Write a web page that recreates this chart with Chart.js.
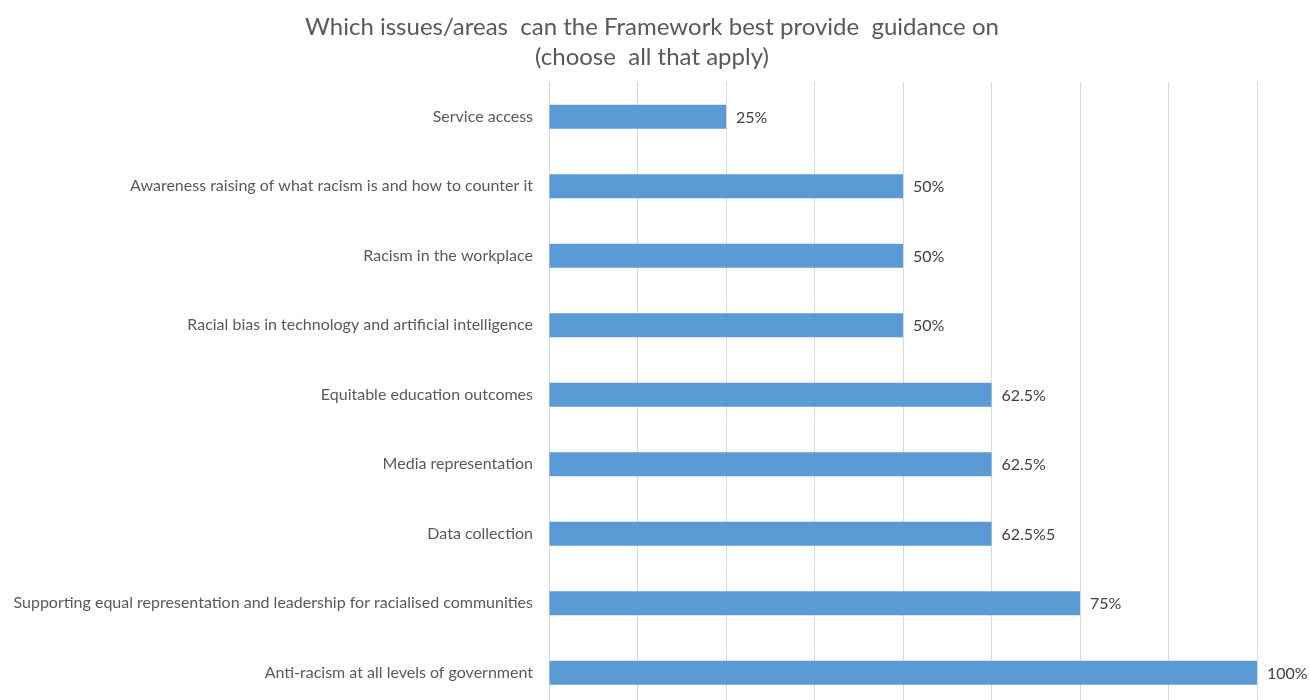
<!DOCTYPE html>
<html>
<head>
<meta charset="utf-8">
<script src="https://cdn.jsdelivr.net/npm/chart.js@4"></script>
<style>
  html, body { margin: 0; padding: 0; background: #fff; overflow: hidden; }
  #c { position: absolute; left: 0; top: 0; }
</style>
</head>
<body>
<canvas id="c" width="1310" height="733"></canvas>
<script>
const categories = [
  "Service access",
  "Awareness raising of what racism is and how to counter it",
  "Racism in the workplace",
  "Racial bias in technology and artificial intelligence",
  "Equitable education outcomes",
  "Media representation",
  "Data collection",
  "Supporting equal representation and leadership for racialised communities",
  "Anti-racism at all levels of government"
];
const values = [25, 50, 50, 50, 62.5, 62.5, 62.5, 75, 100];
const valueLabels = ["25%", "50%", "50%", "50%", "62.5%", "62.5%", "62.5%5", "75%", "100%"];
const titleLines = ["Which issues/areas  can the Framework best provide  guidance on", "(choose  all that apply)"];

const FONT = "Lato, 'Open Sans', sans-serif";
const TEXT = "#595959";

const valueLabelPlugin = {
  id: "valueLabels",
  afterDatasetsDraw(chart) {
    const ctx = chart.ctx;
    const meta = chart.getDatasetMeta(0);
    ctx.save();
    ctx.font = "16px " + FONT;
    ctx.fillStyle = "#404040";
    ctx.textAlign = "left";
    ctx.textBaseline = "middle";
    meta.data.forEach((bar, i) => {
      ctx.fillText(valueLabels[i], bar.x + 10, bar.y + 1);
    });
    ctx.restore();
  }
};

const titlePlugin = {
  id: "centeredTitle",
  afterDraw(chart) {
    const ctx = chart.ctx;
    ctx.save();
    ctx.font = "24px " + FONT;
    ctx.fillStyle = TEXT;
    ctx.textAlign = "center";
    ctx.textBaseline = "middle";
    titleLines.forEach((line, i) => ctx.fillText(line, 652, 27 + i * 30));
    ctx.restore();
  }
};

new Chart(document.getElementById("c"), {
  type: "bar",
  data: {
    labels: categories,
    datasets: [{
      data: values,
      backgroundColor: "#5B9BD5",
      borderWidth: 0,
      categoryPercentage: 1,
      barPercentage: 0.345
    }]
  },
  options: {
    indexAxis: "y",
    responsive: false,
    maintainAspectRatio: false,
    animation: false,
    layout: { padding: { left: 0, right: 53, top: 82, bottom: 0 } },
    plugins: {
      legend: { display: false },
      tooltip: { enabled: false },
      title: { display: false }
    },
    scales: {
      x: {
        min: 0, max: 100,
        afterFit(scale) { scale.height = 0; },
        ticks: { display: false, stepSize: 12.5 },
        grid: { color: "#D9D9D9", drawTicks: false },
        border: { display: false }
      },
      y: {
        afterFit(scale) { scale.width = 549; },
        ticks: { color: TEXT, font: { family: FONT, size: 16 }, padding: 16 },
        grid: { display: false, drawTicks: false },
        border: { display: true, color: "#D9D9D9" }
      }
    }
  },
  plugins: [valueLabelPlugin, titlePlugin]
});
</script>
</body>
</html>
